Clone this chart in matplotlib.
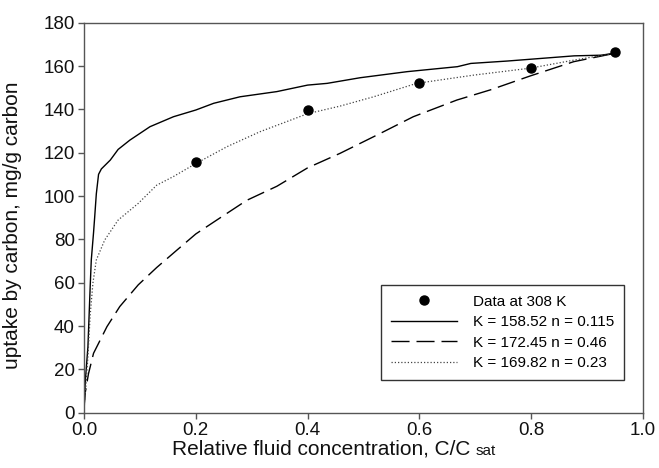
import matplotlib
matplotlib.use("Agg")
import matplotlib.pyplot as plt

plt.rcParams['font.family'] = ['Liberation Sans', 'DejaVu Sans']

# Measured data
data_x = [0.2, 0.4, 0.6, 0.8, 0.95]
data_y = [115.5, 139.5, 152, 159, 166.5]

# Fitted curves
solid_x = [0.0, 0.0024, 0.007, 0.011, 0.013, 0.017, 0.019, 0.022, 0.026, 0.031, 0.047, 0.061,
           0.082, 0.118, 0.16, 0.2, 0.232, 0.279, 0.345, 0.4, 0.435, 0.494, 0.518, 0.578,
           0.668, 0.692, 0.757, 0.817, 0.877, 0.925, 0.952]
solid_y = [0, 15, 30.5, 58, 70.5, 83, 90, 101, 110, 112.5, 116.6, 121.5,
           125.8, 132, 136.6, 139.7, 142.8, 145.8, 148.2, 151.2, 152, 154.6, 155.4, 157.4,
           159.7, 161.2, 162.3, 163.5, 164.7, 165, 166]

dashed_x = [0.0, 0.002, 0.008, 0.017, 0.041, 0.064, 0.097, 0.13, 0.166, 0.2, 0.238, 0.291,
            0.345, 0.4, 0.458, 0.53, 0.589, 0.667, 0.727, 0.798, 0.876, 0.952]
dashed_y = [3, 9, 18, 27.4, 39.7, 49, 59, 67, 75, 82.5, 89, 98,
            104.5, 113, 119.7, 128.9, 136.6, 144.3, 149, 155.4, 162, 166]

dotted_x = [0.0, 0.003, 0.007, 0.011, 0.016, 0.022, 0.037, 0.061, 0.097, 0.13, 0.16, 0.2,
            0.256, 0.315, 0.4, 0.458, 0.518, 0.595, 0.697, 0.798, 0.876, 0.952]
dotted_y = [3, 11, 26, 45, 60, 70.5, 79.7, 88.9, 96.6, 105, 109, 115,
            122.8, 129.7, 138, 141.5, 145.8, 152, 155.8, 159, 162.7, 166]

labels = ["Data at 308 K", "K = 158.52 n = 0.115", "K = 172.45 n = 0.46", "K = 169.82 n = 0.23"]
x_ticks = [0.0, 0.2, 0.4, 0.6, 0.8, 1.0]
y_ticks = [0, 20, 40, 60, 80, 100, 120, 140, 160, 180]

fig = plt.figure(figsize=(6.59, 4.68), dpi=100)
ax = fig.add_axes([0.1275, 0.1182, 0.8482, 0.8333])

ax.plot(solid_x, solid_y, color='black', lw=1.0, label=labels[1])
ax.plot(dashed_x, dashed_y, color='black', lw=1.0, linestyle=(0, (13, 5)), label=labels[2])
ax.plot(dotted_x, dotted_y, color='#444444', lw=0.9, linestyle=(0, (1, 1.6)), label=labels[3])
ax.plot(data_x, data_y, 'o', color='black', ms=6.5, linestyle='none', label=labels[0], zorder=5)

ax.set_xlim(0, 1.0)
ax.set_ylim(0, 180)
ax.set_xticks(x_ticks)
ax.set_xticklabels([f"{t:.1f}" for t in x_ticks])
ax.set_yticks(y_ticks)
for s in ax.spines.values():
    s.set_color('#555555')
    s.set_linewidth(1.0)
ax.tick_params(direction='out', length=4.5, width=1.0, color='#555555', labelsize=13.5,
               labelcolor='#111111', pad=2)

ax.set_ylabel("uptake by carbon, mg/g carbon", fontsize=15, color='#111111')
ax.yaxis.set_label_coords(-0.111, 0.48)

# x label with small "sat"
lab = fig.text(172 / 659, 0.028, "Relative fluid concentration, C/C", fontsize=15, color='#111111',
               ha='left', va='baseline')
fig.canvas.draw()
bb = lab.get_window_extent()
fig.text((bb.x1 + 5) / fig.bbox.width, 0.028, "sat", fontsize=11, color='#111111',
         ha='left', va='baseline')

handles, labs = ax.get_legend_handles_labels()
order = [3, 0, 1, 2]
leg = ax.legend([handles[i] for i in order], [labs[i] for i in order],
                loc='lower right', bbox_to_anchor=(0.966, 0.084), fontsize=11,
                frameon=True, fancybox=False, edgecolor='#333333', framealpha=1,
                handlelength=4.3, handletextpad=1.05, borderpad=0.65, labelspacing=0.42,
                borderaxespad=0)
leg.get_frame().set_linewidth(1.0)

fig.savefig("out.png", dpi=100)
